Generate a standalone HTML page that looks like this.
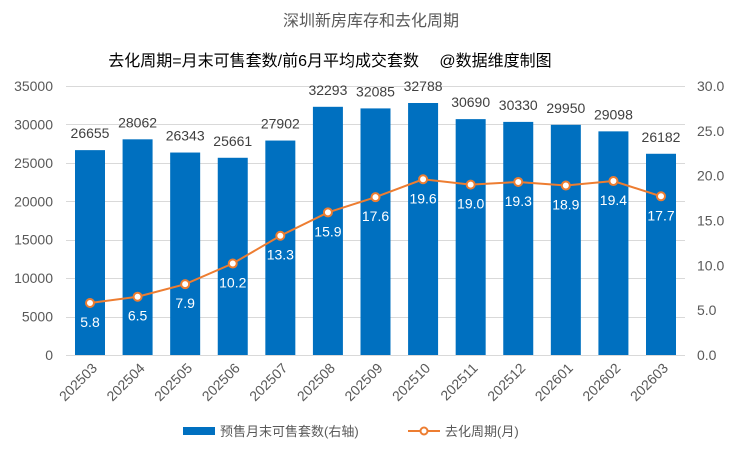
<!DOCTYPE html>
<html><head><meta charset="utf-8"><style>
body{margin:0;background:#fff}
svg{font-family:"Liberation Sans","Noto Sans CJK SC",sans-serif}
</style></head><body>
<svg id="c" width="743" height="455" viewBox="0 0 743 455">
<text x="371" y="26" text-anchor="middle" font-size="16" fill="#595959">深圳新房库存和去化周期</text>
<text x="330" y="66" text-anchor="middle" font-size="16" fill="#000">去化周期=月末可售套数/前6月平均成交套数　 @数据维度制图</text>
<g id="axes"></g><g id="bars"></g><g id="line"></g>
<g>
<rect x="183" y="427" width="32" height="8" fill="#0070C0"/>
<text x="220" y="436" font-size="13" fill="#595959">预售月末可售套数(右轴)</text>
<line x1="408" y1="431" x2="440" y2="431" stroke="#ED7D31" stroke-width="2"/>
<circle cx="424" cy="431" r="3.5" fill="#fff" stroke="#ED7D31" stroke-width="2"/>
<text x="445" y="436" font-size="13" fill="#595959">去化周期(月)</text>
</g>
</svg>
<script>
const categories=["202503","202504","202505","202506","202507","202508","202509","202510","202511","202512","202601","202602","202603"];
const inventory=[26655,28062,26343,25661,27902,32293,32085,32788,30690,30330,29950,29098,26182];
const cycle=[5.8,6.5,7.9,10.2,13.3,15.9,17.6,19.6,19.0,19.3,18.9,19.4,17.7];
const leftTicks=[0,5000,10000,15000,20000,25000,30000,35000];
const rightTicks=["0.0","5.0","10.0","15.0","20.0","25.0","30.0"];
const NS="http://www.w3.org/2000/svg";
const y0=355,yTop=86,L=66,R=685;
const yL=v=>y0-(v/35000)*(y0-yTop);
const yR=v=>y0-(v/30)*(y0-yTop);
const step=(661-90)/12;
const xC=i=>90+step*i;
function mk(tag,attrs,parent,text){const e=document.createElementNS(NS,tag);for(const k in attrs)e.setAttribute(k,attrs[k]);if(text!==undefined)e.textContent=text;document.getElementById(parent).appendChild(e);return e;}
leftTicks.forEach(t=>{
const g=mk("line",{x1:L,x2:R,y1:Math.round(yL(t))+0.5,y2:Math.round(yL(t))+0.5,stroke:"#d9d9d9"},"axes");


const e=mk("text",{x:53,y:yL(t)+5,"text-anchor":"end","font-size":14,fill:"#595959"},"axes",t);

});
rightTicks.forEach(t=>{const e=mk("text",{x:697,y:yR(+t)+5,"font-size":14,fill:"#595959"},"axes",t);

});
categories.forEach((c,i)=>{const x=xC(i);
const e=mk("text",{x:x+8,y:y0+14,"text-anchor":"end","font-size":14,fill:"#595959",transform:`rotate(-45 ${x+8} ${y0+14})`},"axes",c);


const b=mk("rect",{x:x-15,y:yL(inventory[i]),width:30,height:y0-yL(inventory[i]),fill:"#0070C0"},"bars");


const t=mk("text",{x:x,y:yL(inventory[i])-12,"text-anchor":"middle","font-size":14,fill:"#404040"},"bars",inventory[i]);

});
const pl=mk("polyline",{points:cycle.map((v,i)=>xC(i)+","+yR(v)).join(" "),fill:"none",stroke:"#ED7D31","stroke-width":2},"line");


cycle.forEach((v,i)=>{const p=mk("circle",{cx:xC(i),cy:yR(v),r:4,fill:"#fff",stroke:"#ED7D31","stroke-width":2},"line");


const t=mk("text",{x:xC(i),y:yR(v)+24,"text-anchor":"middle","font-size":14,fill:"#fff"},"line",v.toFixed(1));

});
</script>
</body></html>
